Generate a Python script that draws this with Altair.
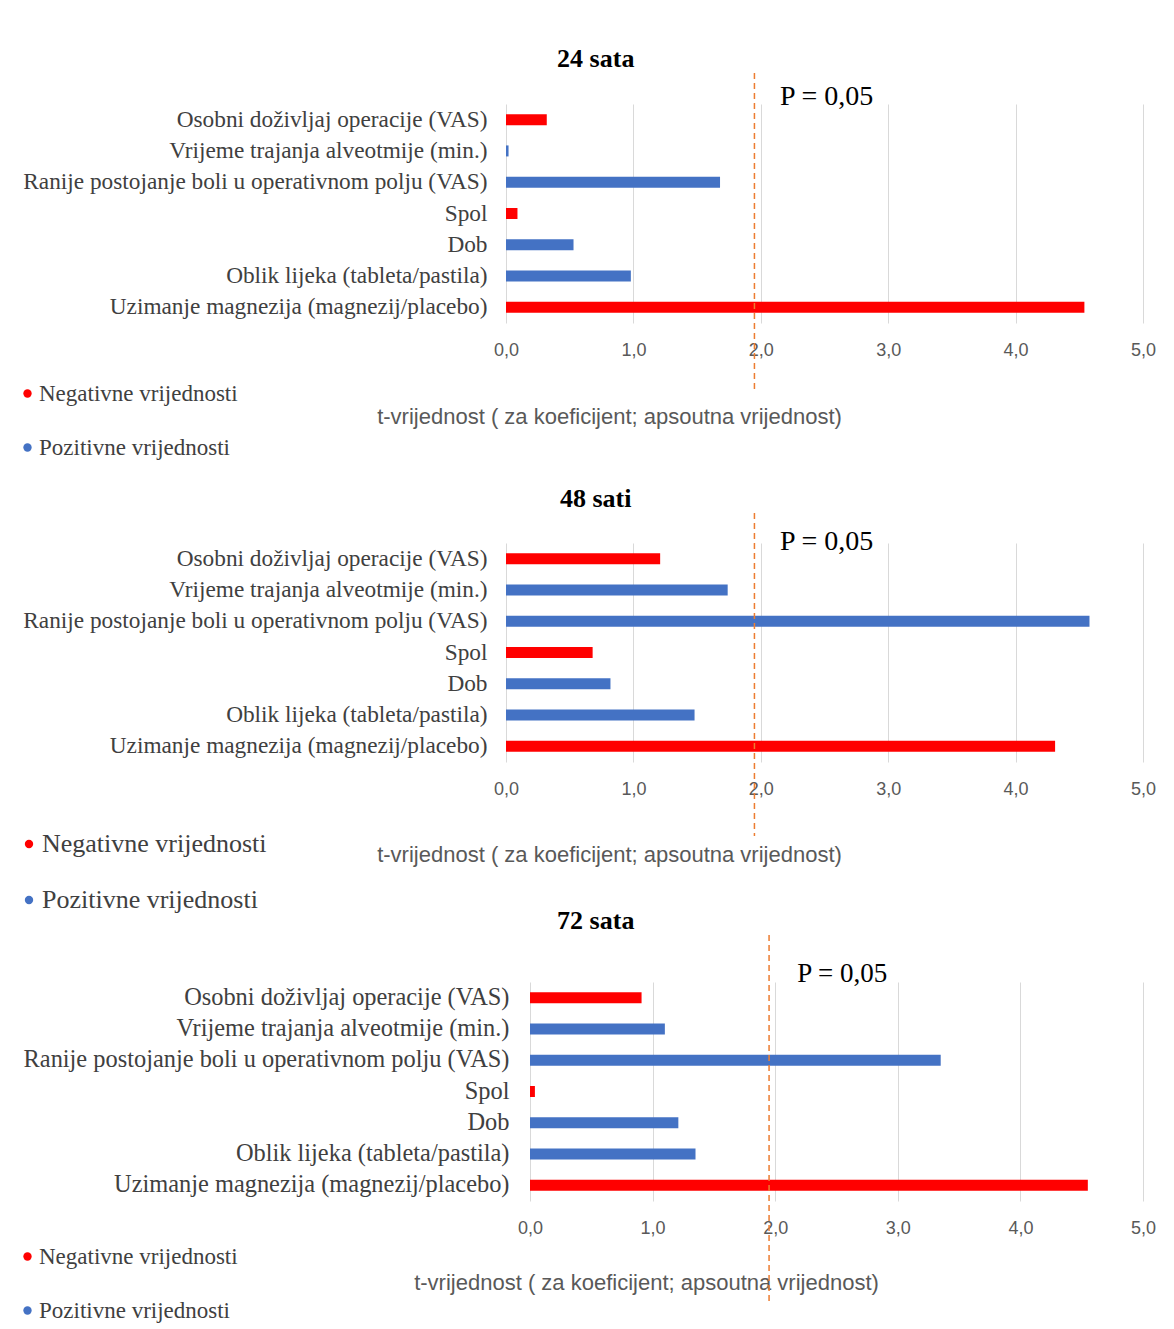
import altair as alt
import pandas as pd

categories = [
    "Osobni doživljaj operacije (VAS)",
    "Vrijeme trajanja alveotmije (min.)",
    "Ranije postojanje boli u operativnom polju (VAS)",
    "Spol",
    "Dob",
    "Oblik lijeka (tableta/pastila)",
    "Uzimanje magnezija (magnezij/placebo)",
]
signs = ["Negativne vrijednosti", "Pozitivne vrijednosti", "Pozitivne vrijednosti",
         "Negativne vrijednosti", "Pozitivne vrijednosti", "Pozitivne vrijednosti",
         "Negativne vrijednosti"]
values_24 = [0.32, 0.02, 1.68, 0.09, 0.53, 0.98, 4.54]
values_48 = [1.21, 1.74, 4.58, 0.68, 0.82, 1.48, 4.31]
values_72 = [0.91, 1.10, 3.35, 0.04, 1.21, 1.35, 4.55]
titles = ["24 sata", "48 sati", "72 sata"]
threshold = [1.95]
p_label = ["P = 0,05"]
x_title = "t-vrijednost ( za koeficijent; apsoutna vrijednost)"
sign_order = ["Negativne vrijednosti", "Pozitivne vrijednosti"]
sign_colors = ["#FF0000", "#4472C4"]

W, H = 637, 219
SERIF = "Liberation Serif"
SANS = "Liberation Sans"


def panel(title, vals, xrange, ylab_pad, ylab_size, leg_size, leg_y, p_x, p_y, p_size,
          rule_y, rule_y2, title_x, title_y):
    df = pd.DataFrame({"cat": categories, "val": vals, "sign": signs})
    xscale = alt.Scale(domain=[0, 5], nice=False, range=xrange)
    bars = alt.Chart(df).mark_bar(size=11).encode(
        x=alt.X("val:Q", scale=xscale,
                axis=alt.Axis(values=[0, 1, 2, 3, 4, 5], grid=True, gridColor="#D9D9D9",
                              domain=False, ticks=False, labelPadding=18, labelFlush=False,
                              labelFont=SANS, labelFontSize=18, labelColor="#595959",
                              labelExpr="replace(format(datum.value, '.1f'), '.', ',')",
                              title=x_title, titleFont=SANS, titleFontSize=22,
                              titleFontWeight="normal", titleColor="#595959",
                              titleX=title_x, titleY=title_y, titleAlign="center",
                              titleBaseline="middle", titleAnchor="start")),
        y=alt.Y("cat:N", sort=categories,
                scale=alt.Scale(paddingInner=0, paddingOuter=0),
                axis=alt.Axis(title=None, domain=False, ticks=False, grid=False,
                              labelFont=SERIF, labelFontSize=ylab_size,
                              labelColor="#404040", labelPadding=ylab_pad,
                              labelLimit=1000)),
        color=alt.Color("sign:N", scale=alt.Scale(domain=sign_order, range=sign_colors),
                        legend=alt.Legend(orient="none", legendX=-490, legendY=leg_y,
                                          direction="vertical", title=None,
                                          symbolType="circle", symbolSize=70,
                                          symbolStrokeWidth=0, labelFont=SERIF,
                                          labelFontSize=leg_size, labelColor="#404040",
                                          labelLimit=1000, rowPadding=30, labelOffset=0)),
    )
    rule = alt.Chart(pd.DataFrame({"t": threshold})).mark_rule(
        color="#ED7D31", strokeDash=[6, 4], strokeWidth=1.5
    ).encode(x=alt.X("t:Q", scale=xscale), y=alt.value(rule_y), y2=alt.value(rule_y2))
    ptext = alt.Chart(pd.DataFrame({"x": [p_x], "label": p_label})).mark_text(
        align="left", baseline="middle", font=SERIF, fontSize=p_size, color="black"
    ).encode(x=alt.X("x:Q", scale=xscale), y=alt.value(p_y), text="label:N")
    return alt.layer(bars, rule, ptext).properties(
        width=W, height=H,
        title=alt.TitleParams(title, font=SERIF, fontSize=26, fontWeight="bold",
                              color="black", anchor="middle", frame="bounds",
                              offset=0, dx=10),
    )


p1 = panel(titles[0], values_24, [0, W], 19, 23.3, 23, 278, 2.15, -7, 28, -31, 287, 103, 93)
p2 = panel(titles[1], values_48, [0, W], 19, 23.3, 26, 288, 2.15, -1, 28, -30, 293, 103, 92)
p3 = panel(titles[2], values_72, [24, W], -3, 24.4, 23, 263, 2.18, -8, 27, -47, 323, 140, 81)

chart = alt.vconcat(p1, p2, p3, spacing=220, bounds="flush").resolve_scale(
    color="independent", x="independent", y="independent"
).resolve_legend(color="independent").properties(
    padding={"left": 8, "top": 38, "right": 5, "bottom": 0}
).configure(background="white").configure_view(stroke=None)

chart.save("out.html", embed_options={"renderer": "svg", "actions": False})
